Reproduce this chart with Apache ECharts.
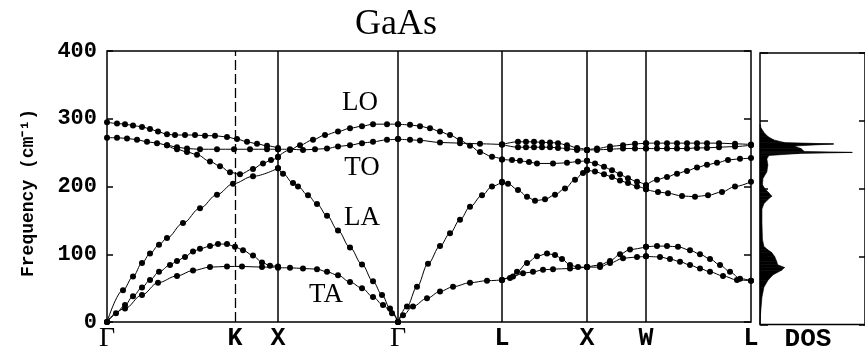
<!DOCTYPE html>
<html><head><meta charset="utf-8">
<script src="https://cdn.jsdelivr.net/npm/echarts@6.0.0/dist/echarts.min.js"></script>
<style>html,body{margin:0;padding:0;background:#fff}#c{width:865px;height:353px}</style>
</head><body><div id="c"></div><script>
// k-path tick positions and labels
const kPos = [0, 128, 171, 291, 395, 480, 539, 644];
const kLabels = ['Γ', 'K', 'X', 'Γ', 'L', 'X', 'W', 'L'];
const yTicks = [0, 100, 200, 300, 400];

// Γ-K-X
const GKX_LO = [[0,295],[10,293],[18,292],[26,290],[35,288],[43,285],[51,281],[60,277],[68,276],[78,276],[88,276],[98,275],[108,275],[120,273],[130,270],[140,266],[150,263],[160,260],[171,257]];
const GKX_TO1 = [[0,272],[10,272],[20,271],[30,269],[40,266],[50,264],[60,261],[70,258],[80,256],[93,255],[110,255],[127,255],[143,255],[160,255],[171,255]];
const GKX_TO2 = [[60,261],[70,255],[80,251],[90,247],[103,237],[113,230],[123,221],[133,218],[146,226],[156,234],[164,239],[171,243]];
const GKX_LA = [[0,0],[16,47],[26,67],[35,87],[43,101],[52,114],[60,124],[76,146],[93,168],[110,188],[126,204],[146,215],[171,227]];
const GKX_TA2 = [[0,0],[9,13],[18,25],[26,38],[35,51],[43,62],[52,74],[63,84],[70,90],[78,96],[86,104],[93,108],[103,112],[111,115],[120,115],[128,111],[136,106],[146,98],[155,88],[163,83],[171,82]];
const GKX_TA1 = [[0,0],[18,20],[35,40],[51,58],[70,68],[86,76],[103,81],[120,82],[135,82],[155,81],[171,81]];
// X-Γ
const XG_LO = [[171,244],[183,254],[193,261],[206,269],[218,276],[231,281],[243,286],[255,289],[266,292],[280,292],[291,292]];
const XG_TO = [[171,255],[183,255],[196,254],[208,255],[220,256],[231,259],[243,261],[255,264],[266,266],[280,269],[291,270]];
const XG_LA = [[171,227],[176,219],[186,205],[191,200],[201,187],[210,174],[220,157],[231,135],[243,110],[255,85],[266,60],[275,40],[283,20],[291,0]];
const XG_TA = [[171,80],[183,80],[196,79],[210,78],[220,74],[231,69],[243,59],[255,50],[266,37],[276,25],[285,13],[291,0]];
// Γ-L
const GL_LO = [[291,292],[303,291],[313,289],[323,286],[333,281],[343,276],[353,269],[363,260],[373,251],[385,244],[395,240]];
const GL_TO = [[291,270],[303,269],[313,268],[333,265],[353,264],[373,263],[395,262]];
const GL_LA = [[291,0],[300,23],[310,52],[321,86],[333,112],[343,131],[353,151],[363,170],[375,187],[385,200],[395,207]];
const GL_TA = [[291,0],[296,10],[306,23],[320,35],[333,45],[346,52],[363,58],[380,61],[395,62]];
// L-X
const LX_TO1 = [[395,262],[411,266],[419,266],[427,266],[435,265],[443,265],[451,264],[460,261],[470,257],[480,254]];
const LX_TO2 = [[395,262],[411,258],[419,258],[427,258],[435,258],[443,258],[451,257],[460,256],[470,254],[480,254]];
const LX_LO = [[395,240],[405,239],[413,238],[422,236],[430,234],[446,234],[460,235],[471,237],[480,238]];
const LX_LA = [[395,206],[401,204],[411,195],[420,185],[428,179],[438,181],[448,188],[458,197],[468,210],[476,220],[480,224]];
const LX_TA2 = [[395,62],[403,65],[410,74],[420,87],[430,97],[440,101],[448,99],[455,93],[463,84],[471,81],[480,81]];
const LX_TA1 = [[395,62],[406,67],[416,72],[426,74],[436,77],[446,78],[463,79],[480,81]];
// X-W
const XW_TO1 = [[480,254],[490,256],[503,259],[516,261],[528,263],[539,264]];
const XW_TO2 = [[480,254],[490,254],[503,255],[516,256],[528,256],[539,256]];
const XW_LO = [[480,238],[488,234],[497,229],[505,224],[513,218],[521,212],[530,207],[539,202]];
const XW_LA = [[480,225],[488,222],[497,218],[505,214],[513,209],[521,205],[530,200],[539,196]];
const XW_TA2 = [[480,81],[493,84],[503,90],[513,100],[523,107],[539,111]];
const XW_TA1 = [[480,81],[493,81],[503,87],[516,94],[530,96],[539,97]];
// W-L
const WL_TO1 = [[539,264],[550,264],[560,264],[570,264],[580,264],[590,264],[600,264],[612,264],[628,263],[644,262]];
const WL_TO2 = [[539,256],[550,256],[560,256],[570,256],[580,256],[590,257],[600,257],[612,258],[628,259],[644,261]];
const WL_LO = [[539,202],[550,210],[560,214],[570,219],[580,223],[590,228],[600,232],[610,235],[621,239],[633,241],[644,242]];
const WL_LA = [[539,196],[551,192],[561,190],[575,186],[588,185],[601,187],[615,192],[628,200],[644,207]];
const WL_TA2 = [[539,111],[550,112],[560,112],[571,111],[583,106],[593,100],[603,93],[613,84],[623,74],[633,64],[644,61]];
const WL_TA1 = [[539,97],[553,96],[563,93],[573,89],[583,84],[593,79],[603,74],[616,68],[630,62],[644,61]];

// Density of states
const DOS_F = [0,15,40,55,65,73,80,84,88,93,100,106,110,115,125,150,170,178,184,189,194,200,206,215,225,235,244,249,252,253.5,255,259,263,266,268,272,277,283,290,295];
const DOS_W = [0,0.5,2,4,8,13,22,25,18,17,15,12,8,4,2.5,2,2,4,8,12,9,5,2.5,3,7,8,7,9,40,94,45,42,35,75,25,14,8,4,1,0];

const branches = [GKX_LO,GKX_TO1,GKX_TO2,GKX_LA,GKX_TA2,GKX_TA1,
  XG_LO,XG_TO,XG_LA,XG_TA, GL_LO,GL_TO,GL_LA,GL_TA,
  LX_TO1,LX_TO2,LX_LO,LX_LA,LX_TA2,LX_TA1,
  XW_TO1,XW_TO2,XW_LO,XW_LA,XW_TA2,XW_TA1,
  WL_TO1,WL_TO2,WL_LO,WL_LA,WL_TA2,WL_TA1];

const dosData = DOS_F.map((f, i) => [DOS_W[i], f]);

const MONO = 'Liberation Mono';
const SERIF = 'Liberation Serif';

const series = branches.map((d, i) => ({
  type: 'line', xAxisIndex: 0, yAxisIndex: 0, data: d,
  smooth: 0.35, smoothMonotone: 'x',
  symbol: 'circle', symbolSize: 6, showSymbol: true,
  itemStyle: {color: '#000'}, lineStyle: {color: '#000', width: 1},
  silent: true, z: 3
}));

series[0].markLine = {
  silent: true, symbol: ['none', 'none'], label: {show: false},
  lineStyle: {color: '#000', width: 1.5, type: 'solid'},
  data: kPos.slice(2, 7).map(v => ({xAxis: v}))
};
series[1].markLine = {
  silent: true, symbol: ['none', 'none'], label: {show: false},
  lineStyle: {color: '#000', width: 1.3, type: [10, 4]},
  data: [{xAxis: kPos[1]}]
};

series.push({
  type: 'custom', xAxisIndex: 1, yAxisIndex: 2, data: dosData, silent: true,
  renderItem: (params, api) => {
    const i = params.dataIndex;
    if (i >= dosData.length - 1) return null;
    const a = dosData[i], b = dosData[i + 1];
    return {
      type: 'polygon',
      shape: {points: [api.coord([0, a[1]]), api.coord([a[0], a[1]]), api.coord([b[0], b[1]]), api.coord([0, b[1]])]},
      style: {fill: '#000', stroke: '#000', lineWidth: 0.6}
    };
  }
});

const option = {
  animation: false,
  backgroundColor: '#fff',
  grid: [
    {left: 107, top: 51, width: 644, height: 271, show: true, borderColor: '#000', borderWidth: 1.5},
    {left: 760, top: 53, width: 107, height: 271.5, show: true, borderColor: '#000', borderWidth: 1.5}
  ],
  xAxis: [
    {gridIndex: 0, type: 'value', min: 0, max: 644,
     axisLine: {show: false}, axisTick: {show: false}, splitLine: {show: false},
     axisLabel: {
       customValues: kPos, margin: 4, color: '#000',
       formatter: v => { const s = kLabels[kPos.indexOf(v)]; return s === 'Γ' ? '{g|Γ}' : '{m|' + s + '}'; },
       rich: {
         g: {fontFamily: SERIF, fontSize: 28, color: '#000', lineHeight: 26},
         m: {fontFamily: MONO, fontWeight: 'bold', fontSize: 25, color: '#000', lineHeight: 26}
       }
     }},
    {gridIndex: 1, type: 'value', min: 0, max: 107,
     axisLine: {show: false}, axisTick: {show: false}, splitLine: {show: false}, axisLabel: {show: false}}
  ],
  yAxis: [
    {gridIndex: 0, type: 'value', min: 0, max: 400, interval: 100,
     axisLine: {show: false}, splitLine: {show: false},
     axisTick: {inside: true, length: 6, lineStyle: {color: '#000', width: 1.5}},
     axisLabel: {fontFamily: MONO, fontWeight: 'bold', fontSize: 22, color: '#000', margin: 10}},
    {gridIndex: 0, type: 'value', position: 'right', min: 0, max: 400, interval: 100,
     axisLine: {show: false}, splitLine: {show: false}, axisLabel: {show: false},
     axisTick: {inside: true, length: 7, lineStyle: {color: '#000', width: 1.5}}},
    {gridIndex: 1, type: 'value', min: 0, max: 400, interval: 100,
     axisLine: {show: false}, splitLine: {show: false}, axisLabel: {show: false},
     axisTick: {inside: true, length: 8, lineStyle: {color: '#000', width: 1.5}}},
    {gridIndex: 1, type: 'value', position: 'right', min: 0, max: 400, interval: 100,
     axisLine: {show: false}, splitLine: {show: false}, axisLabel: {show: false},
     axisTick: {inside: true, length: 6, lineStyle: {color: '#000', width: 1.5}}}
  ],
  graphic: [
    {type: 'text', x: 396, y: 25, style: {text: 'GaAs', font: '36px "Liberation Serif"', fill: '#000', align: 'center', verticalAlign: 'middle'}},
    {type: 'text', x: 28, y: 193, rotation: Math.PI / 2, style: {text: 'Frequency (cm⁻¹)', font: 'bold 18px "Liberation Mono"', fill: '#000', align: 'center', verticalAlign: 'middle'}},
    {type: 'text', x: 808, y: 339, style: {text: 'DOS', font: 'bold 26px "Liberation Mono"', fill: '#000', align: 'center', verticalAlign: 'middle'}},
    {type: 'text', x: 360, y: 103, style: {text: 'LO', font: '27px "Liberation Serif"', fill: '#000', align: 'center', verticalAlign: 'middle'}},
    {type: 'text', x: 362, y: 168, style: {text: 'TO', font: '27px "Liberation Serif"', fill: '#000', align: 'center', verticalAlign: 'middle'}},
    {type: 'text', x: 362, y: 218, style: {text: 'LA', font: '27px "Liberation Serif"', fill: '#000', align: 'center', verticalAlign: 'middle'}},
    {type: 'text', x: 326, y: 295, style: {text: 'TA', font: '27px "Liberation Serif"', fill: '#000', align: 'center', verticalAlign: 'middle'}}
  ],
  series: series
};

const chart = echarts.init(document.getElementById('c'), null, {renderer: 'canvas'});
chart.setOption(option);
</script></body></html>
